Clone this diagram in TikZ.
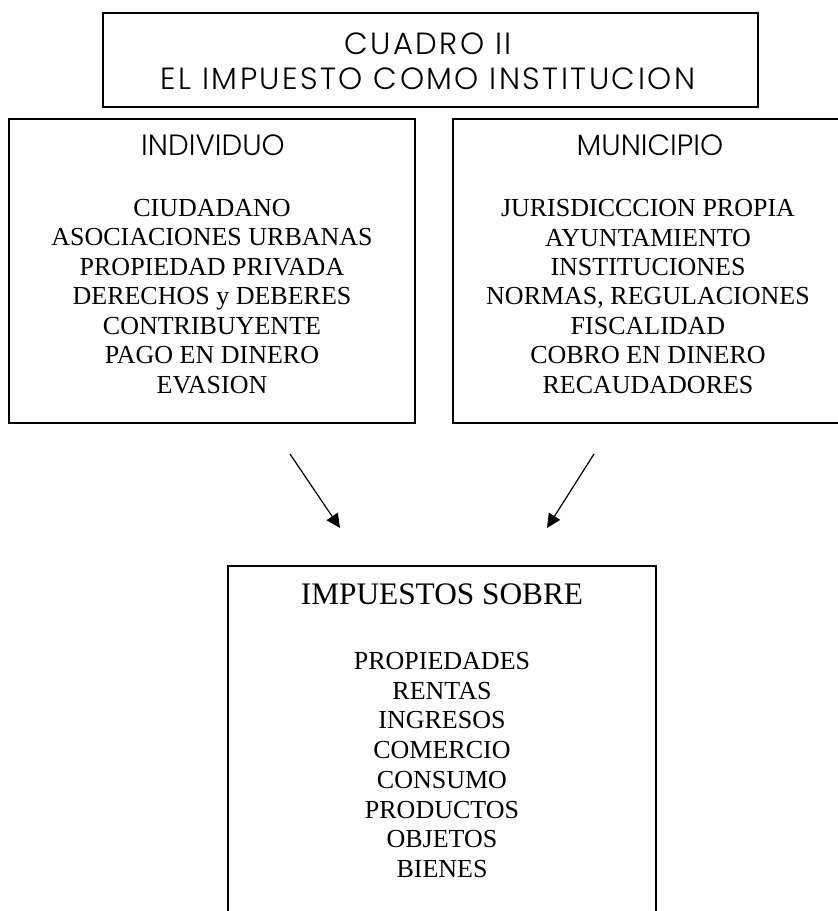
\documentclass[tikz,border=0pt]{standalone}
\usepackage{fontspec}
\setmainfont{Liberation Serif}
\newfontfamily\gothic{Poppins Light}
\newfontfamily\gothicancha{Poppins Light}[LetterSpace=8]
\usetikzlibrary{arrows.meta}

\tikzset{
  caja/.style={draw,line width=1.3pt,inner sep=0pt},
  titulo/.style={font=\gothicancha\fontsize{23}{26.25}\selectfont,align=center},
  encabezado/.style={font=\gothic\fontsize{22}{26}\selectfont},
  lista/.style={font=\fontsize{19.5}{22.1}\selectfont,align=center},
  flecha/.style={-{Triangle[length=10.5pt,width=10pt]},line width=0.9pt}
}

\begin{document}
\begin{tikzpicture}[x=0.75pt,y=-0.75pt]
  \useasboundingbox (0,0) rectangle (838,911);
  \clip (0,0) rectangle (838,911);
  % cajas
  \node[caja,minimum width=491.25pt,minimum height=70.5pt] (cuadro) at (430.5,60) {};
  \node[caja,minimum width=304.5pt,minimum height=228pt] (indiv) at (212,271) {};
  \node[caja,minimum width=294pt,minimum height=228pt] (munic) at (649,271) {};
  \node[caja,minimum width=321pt,minimum height=273pt] (impu) at (442,748) {};
  % textos
  \node[titulo] (cuadrotxt) at (428,61) {CUADRO II\\EL IMPUESTO COMO INSTITUCION};
  \node[encabezado] (indivtit) at (213,145) {INDIVIDUO};
  \node[encabezado] (munictit) at (650,145) {MUNICIPIO};
  \node[lista] (indivlst) at (212,296.5) {CIUDADANO\\ASOCIACIONES URBANAS\\PROPIEDAD PRIVADA\\DERECHOS y DEBERES\\CONTRIBUYENTE\\PAGO EN DINERO\\EVASION};
  \node[lista] (municlst) at (648,296.5) {JURISDICCCION PROPIA\\AYUNTAMIENTO\\INSTITUCIONES\\NORMAS, REGULACIONES\\FISCALIDAD\\COBRO EN DINERO\\RECAUDADORES};
  \node[font=\fontsize{23.5}{28}\selectfont] (impustit) at (442,594) {IMPUESTOS SOBRE};
  \node[lista,font=\fontsize{19.5}{22.3}\selectfont] (impulst) at (442,765) {PROPIEDADES\\RENTAS\\INGRESOS\\COMERCIO\\CONSUMO\\PRODUCTOS\\OBJETOS\\BIENES};
  % flechas
  \coordinate (izqa) at (290,454);
  \coordinate (izqb) at (340,528);
  \coordinate (dera) at (594,454);
  \coordinate (derb) at (547,528);
  \draw[flecha] (izqa) -- (izqb);
  \draw[flecha] (dera) -- (derb);
\end{tikzpicture}
\end{document}
